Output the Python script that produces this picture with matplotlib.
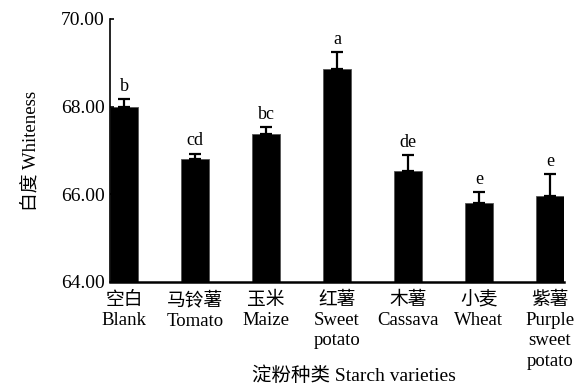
import matplotlib
matplotlib.use('Agg')
import matplotlib.pyplot as plt
import numpy as np

plt.rcParams['font.family'] = ['Liberation Serif', 'Noto Sans CJK SC']

varieties = ['空白\nBlank', '马铃薯\nTomato', '玉米\nMaize', '红薯\nSweet\npotato',
             '木薯\nCassava', '小麦\nWheat', '紫薯\nPurple\nsweet\npotato']
whiteness = [67.98, 66.80, 67.37, 68.85, 66.54, 65.81, 65.97]
errors = [0.20, 0.13, 0.17, 0.39, 0.36, 0.25, 0.49]
groups = ['b', 'cd', 'bc', 'a', 'de', 'e', 'e']

fig = plt.figure(figsize=(5.77, 3.88), dpi=100)
ax = fig.add_axes([0.1906, 0.2732, 0.787, 0.678])

x = np.arange(len(varieties))
ax.bar(x, np.array(whiteness) - 64, bottom=64, width=0.4, color='black',
       edgecolor='#555555', linewidth=0.6)
ax.errorbar(x, whiteness, yerr=[np.zeros(len(errors)), errors], fmt='none',
            ecolor='black', elinewidth=1.6, capsize=4, capthick=1.6)

# significance letters above each error bar
for xi, v, e, g in zip(x, whiteness, errors, groups):
    ax.annotate(g, (xi, v + e), xytext=(0, 3), textcoords='offset points',
                ha='center', va='bottom', fontsize=13)

ax.set_xlim(-0.2, 6.2)
ax.set_ylim(64, 70)
ax.set_yticks([64, 66, 68, 70])
ax.set_yticklabels(['%.2f' % t for t in [64, 66, 68, 70]], fontsize=14)
ax.set_xticks(x)
ax.set_xticklabels(varieties, fontsize=13.5, linespacing=1.25)
ax.tick_params(axis='x', length=0, pad=7)
ax.tick_params(axis='y', direction='in', length=3, width=1.2, pad=4)

for s in ['top', 'right']:
    ax.spines[s].set_visible(False)
ax.spines['left'].set_linewidth(1.2)
ax.spines['bottom'].set_linewidth(1.8)

ax.set_ylabel('白度 Whiteness', fontsize=13.5, labelpad=15)
fig.text(0.614, 0.031, '淀粉种类 Starch varieties', ha='center', va='center', fontsize=14)

fig.savefig('out.png', dpi=100)
